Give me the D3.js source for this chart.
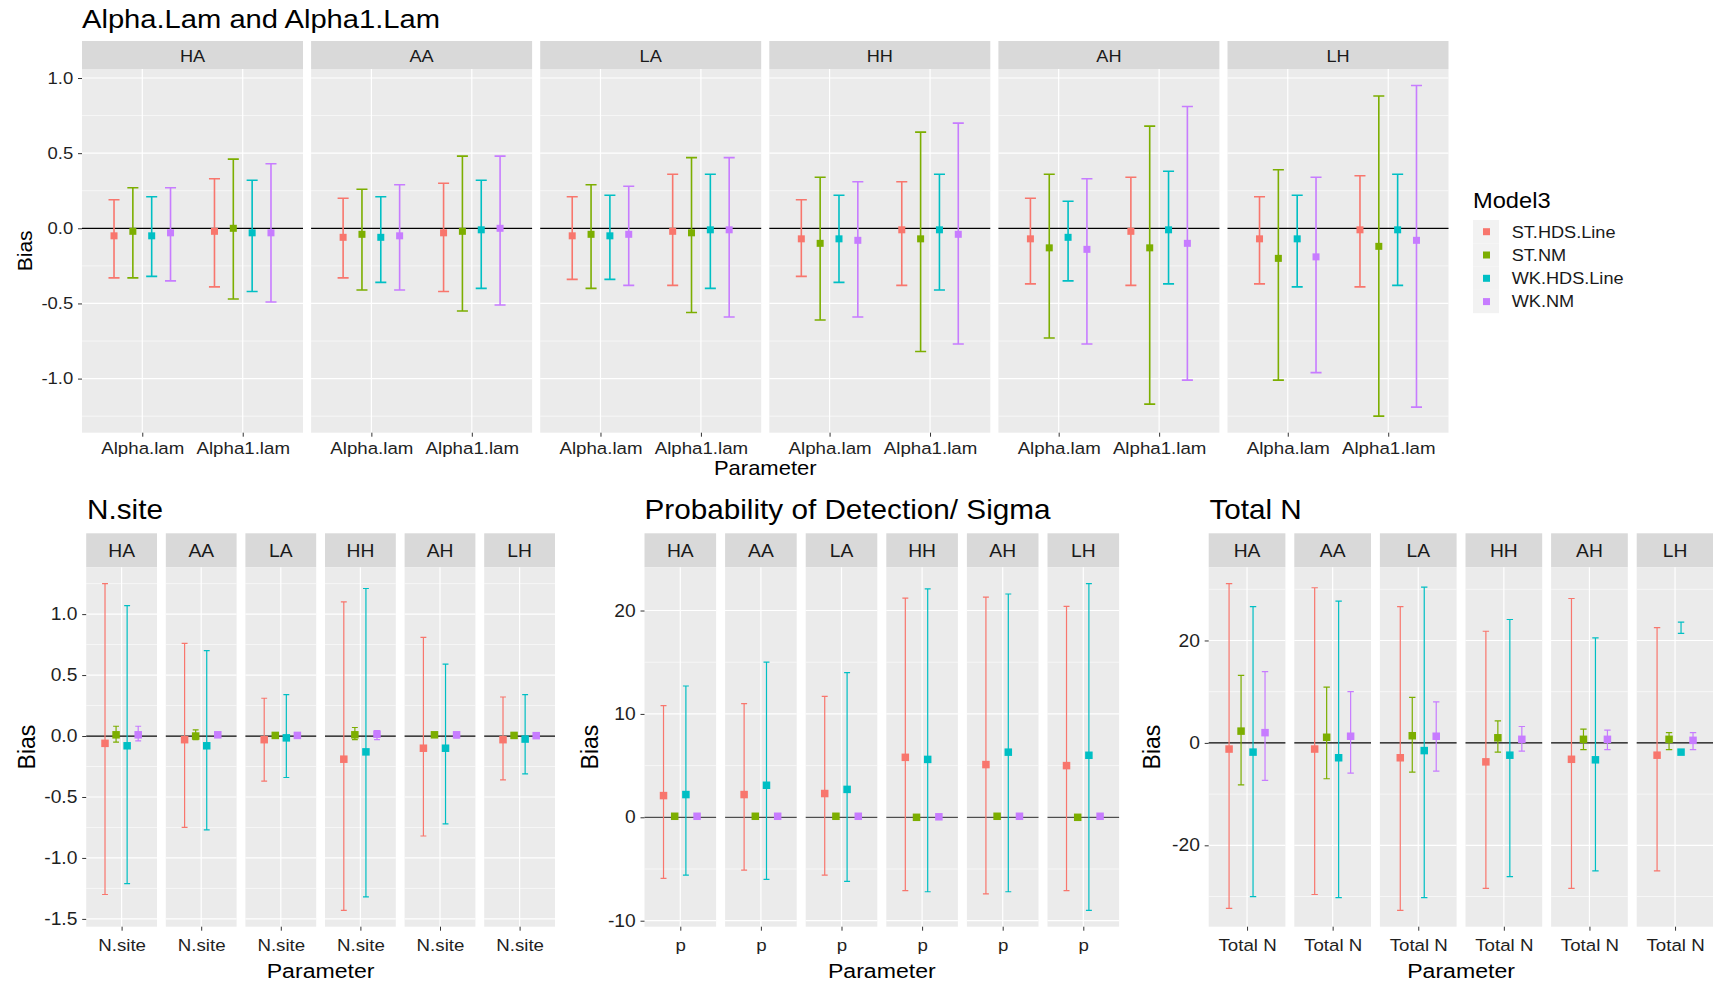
<!DOCTYPE html>
<html>
<head>
<meta charset="utf-8">
<script src="https://cdn.jsdelivr.net/npm/d3@7"></script>
<style>
body { margin: 0; background: #fff; }
svg { display: block; font-family: "Liberation Sans", Arial, sans-serif; }
</style>
</head>
<body>
<svg id="chart" width="1713" height="983"></svg>
<script>
// facets and groups
var designs = ["HA", "AA", "LA", "HH", "AH", "LH"];
var models = ["ST.HDS.Line", "ST.NM", "WK.HDS.Line", "WK.NM"];
var colors = ["#F8766D", "#7CAE00", "#00BFC4", "#C77CFF"];

// Alpha.lam  (rows = designs, cols = models)
var alphaEst = [[-0.05, -0.02, -0.05, -0.03], [-0.06, -0.04, -0.06, -0.05], [-0.05, -0.04, -0.05, -0.04],
	[-0.07, -0.10, -0.07, -0.08], [-0.07, -0.13, -0.06, -0.14], [-0.07, -0.20, -0.07, -0.19]];
var alphaLo = [[-0.33, -0.33, -0.32, -0.35], [-0.33, -0.41, -0.36, -0.41], [-0.34, -0.40, -0.34, -0.38],
	[-0.32, -0.61, -0.36, -0.59], [-0.37, -0.73, -0.35, -0.77], [-0.37, -1.01, -0.39, -0.96]];
var alphaHi = [[0.19, 0.27, 0.21, 0.27], [0.20, 0.26, 0.21, 0.29], [0.21, 0.29, 0.22, 0.28],
	[0.19, 0.34, 0.22, 0.31], [0.20, 0.36, 0.18, 0.33], [0.21, 0.39, 0.22, 0.34]];

// Alpha1.lam
var alpha1Est = [[-0.02, 0.00, -0.03, -0.03], [-0.03, -0.02, -0.01, 0.00], [-0.02, -0.03, -0.01, -0.01],
	[-0.01, -0.07, -0.01, -0.04], [-0.02, -0.13, -0.01, -0.10], [-0.01, -0.12, -0.01, -0.08]];
var alpha1Lo = [[-0.39, -0.47, -0.42, -0.49], [-0.42, -0.55, -0.40, -0.51], [-0.38, -0.56, -0.40, -0.59],
	[-0.38, -0.82, -0.41, -0.77], [-0.38, -1.17, -0.37, -1.01], [-0.39, -1.25, -0.38, -1.19]];
var alpha1Hi = [[0.33, 0.46, 0.32, 0.43], [0.30, 0.48, 0.32, 0.48], [0.36, 0.47, 0.36, 0.47],
	[0.31, 0.64, 0.36, 0.70], [0.34, 0.68, 0.38, 0.81], [0.35, 0.88, 0.36, 0.95]];

// N.site
var nsEst = [[-0.06, 0.01, -0.08, 0.01], [-0.03, 0.00, -0.08, 0.01], [-0.03, 0.005, -0.015, 0.005],
	[-0.19, 0.01, -0.13, 0.015], [-0.10, 0.01, -0.10, 0.01], [-0.03, 0.005, -0.025, 0.003]];
var nsLo = [[-1.30, -0.05, -1.21, -0.04], [-0.75, -0.03, -0.77, -0.01], [-0.37, -0.01, -0.34, -0.014],
	[-1.43, -0.03, -1.32, -0.03], [-0.82, -0.01, -0.72, -0.016], [-0.36, -0.008, -0.31, -0.011]];
var nsHi = [[1.25, 0.08, 1.07, 0.08], [0.76, 0.05, 0.70, 0.03], [0.31, 0.02, 0.34, 0.022],
	[1.10, 0.07, 1.21, 0.045], [0.81, 0.025, 0.59, 0.03], [0.32, 0.016, 0.34, 0.019]];

// p
var pEst = [[2.1, 0.1, 2.2, 0.1], [2.2, 0.1, 3.1, 0.1], [2.3, 0.1, 2.7, 0.1],
	[5.8, 0.0, 5.6, 0.05], [5.1, 0.1, 6.3, 0.1], [5.0, 0.0, 6.0, 0.1]];
var pLo = [[-5.9, -0.1, -5.6, -0.1], [-5.1, -0.1, -6.0, -0.1], [-5.6, -0.1, -6.2, -0.1],
	[-7.1, -0.1, -7.2, -0.1], [-7.4, -0.1, -7.2, -0.1], [-7.1, -0.1, -9.0, -0.1]];
var pHi = [[10.8, 0.2, 12.7, 0.2], [11.0, 0.2, 15.0, 0.2], [11.7, 0.2, 14.0, 0.2],
	[21.2, 0.2, 22.1, 0.2], [21.3, 0.2, 21.6, 0.2], [20.4, 0.2, 22.6, 0.2]];

// Total N
var tnEst = [[-1.2, 2.3, -1.8, 2.0], [-1.2, 1.1, -2.9, 1.3], [-2.9, 1.4, -1.5, 1.3],
	[-3.7, 1.0, -2.4, 0.7], [-3.2, 0.7, -3.3, 0.7], [-2.4, 0.7, -1.8, 0.5]];
var tnLo = [[-32.3, -8.2, -30.0, -7.3], [-29.6, -7.0, -30.2, -5.9], [-32.7, -5.7, -30.2, -5.5],
	[-28.4, -1.8, -26.1, -1.6], [-28.4, -1.3, -25.0, -1.3], [-25.0, -1.3, 21.4, -1.3]];
var tnHi = [[31.1, 13.2, 26.6, 13.9], [30.3, 10.9, 27.7, 10.0], [26.6, 8.9, 30.4, 8.0],
	[21.8, 4.3, 24.1, 3.2], [28.2, 2.7, 20.5, 2.5], [22.5, 2.0, 23.6, 2.0]];

// tick labels
var alphaTicks = [-1, -0.5, 0, 0.5, 1];
var nsTicks = [-1.5, -1, -0.5, 0, 0.5, 1];
var pTicks = [-10, 0, 10, 20];
var tnTicks = [-20, 0, 20];

var SX = 1.1;  // text in the picture is a bit wide
var svg = d3.select("#chart");

function txt(g, x, y, s, size, anchor)
{
	return g.append("text")
		.attr("transform", "translate(" + x + "," + y + ") scale(" + SX + ",1)")
		.attr("text-anchor", anchor || "start")
		.style("font-size", size + "px")
		.text(s);
}

function facets(o)
{
	var g = svg.append("g");
	var recs = [];
	o.params.forEach(function(p, pi)
	{
		designs.forEach(function(d, di)
		{
			models.forEach(function(m, mi)
			{
				recs.push({ d: d, p: p, m: mi, est: o.est[pi][di][mi], lo: o.lo[pi][di][mi], hi: o.hi[pi][di][mi] });
			});
		});
	});

	var lo = d3.min(recs, function(r) { return Math.min(r.lo, r.est); });
	var hi = d3.max(recs, function(r) { return Math.max(r.hi, r.est); });
	var pad = (hi - lo) * 0.05;
	var y = d3.scaleLinear().domain([lo - pad, hi + pad]).range([o.plotBottom, o.stripBottom]);

	var L = o.x1 - o.x0;
	var step = (L + o.gap) / designs.length;
	var fx = d3.scaleBand().domain(designs).range([o.x0, o.x1]).paddingInner(o.gap / step).paddingOuter(0);
	var bw = fx.bandwidth();
	var x = d3.scalePoint().domain(o.params).range([0, bw]).padding(0.6);
	var xs = x.step();

	var h = o.ticks[1] - o.ticks[0];
	var minor = [o.ticks[0] - h / 2].concat(o.ticks.map(function(t) { return t + h / 2; }))
		.filter(function(v) { return v > y.domain()[0] && v < y.domain()[1]; });

	// title
	txt(g, o.titleX, o.titleY, o.title, o.titleSize).style("fill", "#000");

	designs.forEach(function(d, di)
	{
		var pg = g.append("g").attr("transform", "translate(" + fx(d) + ",0)");

		pg.append("rect").attr("y", o.stripTop).attr("width", bw).attr("height", o.stripBottom - o.stripTop).style("fill", "#D9D9D9");
		txt(pg, bw / 2, (o.stripTop + o.stripBottom) / 2 + o.stripSize * 0.4, d, o.stripSize, "middle").style("fill", "#1A1A1A");

		pg.append("rect").attr("y", o.stripBottom).attr("width", bw).attr("height", o.plotBottom - o.stripBottom).style("fill", "#EBEBEB");

		pg.selectAll(".minor").data(minor).enter().append("line")
			.attr("x1", 0).attr("x2", bw).attr("y1", y).attr("y2", y)
			.style("stroke", "#fff").style("stroke-width", 0.6);
		pg.selectAll(".major").data(o.ticks).enter().append("line")
			.attr("x1", 0).attr("x2", bw).attr("y1", y).attr("y2", y)
			.style("stroke", "#fff").style("stroke-width", 1.2);
		pg.selectAll(".vgrid").data(o.params).enter().append("line")
			.attr("x1", x).attr("x2", x).attr("y1", o.stripBottom).attr("y2", o.plotBottom)
			.style("stroke", "#fff").style("stroke-width", 1.2);

		pg.append("line").attr("x1", 0).attr("x2", bw).attr("y1", y(0)).attr("y2", y(0))
			.style("stroke", o.zero).style("stroke-width", o.zeroW);

		var rs = recs.filter(function(r) { return r.d == d; });
		function px(r) { return x(r.p) + (r.m - 1.5) * 0.1875 * xs; }
		var c = o.cap * xs / 2;

		pg.selectAll(".eb").data(rs).enter().append("path")
			.attr("d", function(r)
			{
				var cx = px(r), a = y(r.hi), b = y(r.lo);
				return "M" + (cx - c) + "," + a + "H" + (cx + c) + "M" + cx + "," + a + "V" + b + "M" + (cx - c) + "," + b + "H" + (cx + c);
			})
			.style("fill", "none")
			.style("stroke", function(r) { return colors[r.m]; })
			.style("stroke-width", o.lw);

		pg.selectAll(".pt").data(rs).enter().append("rect")
			.attr("x", function(r) { return px(r) - o.pt / 2; })
			.attr("y", function(r) { return y(r.est) - o.pt / 2; })
			.attr("width", o.pt).attr("height", o.pt)
			.style("fill", function(r) { return colors[r.m]; });

		var ax = pg.append("g").attr("transform", "translate(0," + o.plotBottom + ")")
			.call(d3.axisBottom(x).tickSize(4).tickPadding(o.xPad));
		styleAxis(ax, o.xSize);

		if(di == 0)
		{
			var ay = pg.append("g")
				.call(d3.axisLeft(y).tickValues(o.ticks).tickFormat(o.fmt).tickSize(4).tickPadding(4));
			styleAxis(ay, o.ySize);
		}
	});

	// axis titles
	g.append("text")
		.attr("transform", "translate(" + (o.biasX + o.biasSize * 0.35) + "," + ((o.stripBottom + o.plotBottom) / 2) + ") rotate(-90)")
		.attr("text-anchor", "middle")
		.style("font-size", o.biasSize + "px")
		.text("Bias");
	txt(g, (o.x0 + o.x1) / 2, o.paramY, "Parameter", o.paramSize, "middle").style("fill", "#000");
}

function styleAxis(a, size)
{
	a.select(".domain").remove();
	a.selectAll(".tick line").style("stroke", "#333").style("stroke-width", 1);
	a.selectAll(".tick text")
		.attr("transform", "scale(" + SX + ",1)")
		.style("font-size", size + "px")
		.style("font-family", "'Liberation Sans', Arial, sans-serif")
		.style("fill", "#1F1F1F");
}

function f1(v) { return v.toFixed(1); }
function f0(v) { return String(v); }

facets({
	title: "Alpha.Lam and Alpha1.Lam", titleX: 82, titleY: 28, titleSize: 26.5,
	params: ["Alpha.lam", "Alpha1.lam"],
	est: [alphaEst, alpha1Est], lo: [alphaLo, alpha1Lo], hi: [alphaHi, alpha1Hi],
	ticks: alphaTicks, fmt: f1,
	x0: 82, x1: 1448.5, gap: 8.1,
	stripTop: 41, stripBottom: 69, plotBottom: 432.7,
	stripSize: 16.5, ySize: 16.8, xSize: 17, xPad: 5.2,
	biasX: 25, biasSize: 21, paramY: 475, paramSize: 20,
	pt: 7, lw: 1.6, cap: 0.11, zero: "#000", zeroW: 1.3
});

facets({
	title: "N.site", titleX: 87, titleY: 519, titleSize: 27,
	params: ["N.site"], est: [nsEst], lo: [nsLo], hi: [nsHi],
	ticks: nsTicks, fmt: f1,
	x0: 86.2, x1: 555, gap: 8.8,
	stripTop: 533.3, stripBottom: 567.3, plotBottom: 926.7,
	stripSize: 17.5, ySize: 17.5, xSize: 17, xPad: 8.2,
	biasX: 27.3, biasSize: 23, paramY: 978, paramSize: 21,
	pt: 7.5, lw: 1.2, cap: 0.1, zero: "#000", zeroW: 1.3
});

facets({
	title: "Probability of Detection/ Sigma", titleX: 644.5, titleY: 519, titleSize: 27,
	params: ["p"], est: [pEst], lo: [pLo], hi: [pHi],
	ticks: pTicks, fmt: f0,
	x0: 644.5, x1: 1119.1, gap: 9,
	stripTop: 533.3, stripBottom: 567.3, plotBottom: 926.7,
	stripSize: 17.5, ySize: 17.5, xSize: 17, xPad: 8.2,
	biasX: 590, biasSize: 23, paramY: 978, paramSize: 21,
	pt: 7.5, lw: 1.2, cap: 0.1, zero: "#4D4D4D", zeroW: 1.3
});

facets({
	title: "Total N", titleX: 1209.4, titleY: 519, titleSize: 27,
	params: ["Total N"], est: [tnEst], lo: [tnLo], hi: [tnHi],
	ticks: tnTicks, fmt: f0,
	x0: 1208.7, x1: 1713.4, gap: 8.9,
	stripTop: 533.3, stripBottom: 567.3, plotBottom: 926.7,
	stripSize: 17.5, ySize: 17.5, xSize: 17, xPad: 8.2,
	biasX: 1151.7, biasSize: 23, paramY: 978, paramSize: 21,
	pt: 7.5, lw: 1.2, cap: 0.1, zero: "#000", zeroW: 1.3
});

// legend
var lg = svg.append("g").attr("transform", "translate(1473,208)");
txt(lg, 0, 0, "Model3", 21.5).style("fill", "#000");
var key = lg.selectAll(".key").data(models).enter().append("g")
	.attr("transform", function(d, i) { return "translate(0," + (12 + i * 23.3) + ")"; });
key.append("rect").attr("width", 26).attr("height", 23.3).style("fill", "#F2F2F2");
key.append("rect").attr("x", 10).attr("y", 8.2).attr("width", 7).attr("height", 7)
	.style("fill", function(d, i) { return colors[i]; });
key.each(function(d) { txt(d3.select(this), 38.7, 17.5, d, 16.5).style("fill", "#1A1A1A"); });
</script>
</body>
</html>
